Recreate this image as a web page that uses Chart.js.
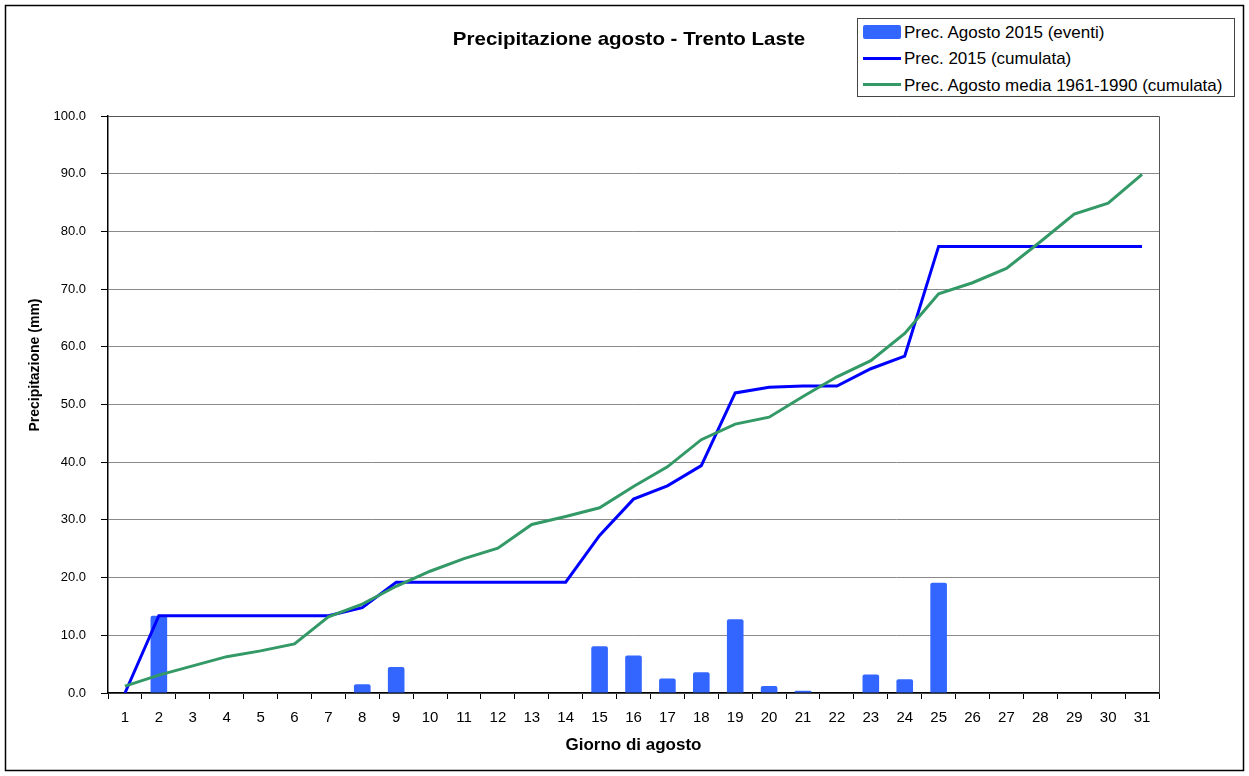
<!DOCTYPE html>
<html>
<head>
<meta charset="utf-8">
<script src="https://cdn.jsdelivr.net/npm/chart.js@4"></script>
<style>
  body { margin: 0; background: #fff; font-family: "Liberation Sans", Arial, sans-serif; }
  #wrap { position: relative; width: 1249px; height: 776px; }
  #title { position: absolute; left: 629px; top: 29px; line-height: 19px; white-space: nowrap; font-weight: bold; font-size: 19px; color: #000; transform: translateX(-50%) scaleX(1.08); }
  #legend { position: absolute; left: 857px; top: 18px; width: 376px; height: 77px; border: 1px solid #444; background: #fff; font-size: 17px; color: #000; }
  .row { position: absolute; left: 0; height: 20px; display: flex; align-items: center; white-space: nowrap; }
  .sw { width: 38px; margin-left: 5px; margin-right: 3px; position: relative; top: -1px; }
</style>
</head>
<body>
<div id="wrap">
  <canvas id="chart" width="1249" height="776"></canvas>
  <div id="title">Precipitazione agosto - Trento Laste</div>
  <div id="legend"></div>
</div>
<script>
const giorni = ['1','2','3','4','5','6','7','8','9','10','11','12','13','14','15','16','17','18','19','20','21','22','23','24','25','26','27','28','29','30','31'];
const eventi2015 = [0, 13.4, 0, 0, 0, 0, 0, 1.5, 4.5, 0, 0, 0, 0, 0, 8.1, 6.5, 2.5, 3.6, 12.8, 1.2, 0.4, 0, 3.2, 2.4, 19.1, 0, 0, 0, 0, 0, 0];
const cumulata2015 = [0, 13.4, 13.4, 13.4, 13.4, 13.4, 13.4, 14.8, 19.2, 19.2, 19.2, 19.2, 19.2, 19.2, 27.3, 33.6, 35.9, 39.4, 52.0, 53.0, 53.2, 53.2, 56.2, 58.4, 77.4, 77.4, 77.4, 77.4, 77.4, 77.4, 77.4];
const mediaCumulata = [1.2, 3.1, 4.7, 6.3, 7.3, 8.5, 13.2, 15.4, 18.5, 21.1, 23.3, 25.1, 29.2, 30.6, 32.1, 35.8, 39.2, 43.9, 46.6, 47.8, 51.4, 54.8, 57.6, 62.3, 69.2, 71.1, 73.6, 78.2, 83.0, 84.9, 89.9];
const yTicks = [0, 10, 20, 30, 40, 50, 60, 70, 80, 90, 100];

const FONT = '"Liberation Sans", Arial, sans-serif';
const Y_TITLE = 'Precipitazione (mm)';

// white background, outer frame, plot-area border and the y title (sits above centre like the original)
const framePlugin = {
    id: 'frame',
    beforeDraw(chart) {
        const c = chart.ctx;
        c.save();
        c.fillStyle = '#fff';
        c.fillRect(0, 0, chart.width, chart.height);
        c.strokeStyle = '#000';
        c.lineWidth = 1.5;
        c.strokeRect(5.5, 5.5, chart.width - 11, chart.height - 11);
        c.restore();
    },
    afterDatasetsDraw(chart) {
        const a = chart.chartArea, c = chart.ctx;
        c.save();
        c.strokeStyle = '#555';
        c.lineWidth = 1;
        c.beginPath();
        c.moveTo(a.left, a.top + 0.5);
        c.lineTo(a.right + 0.5, a.top + 0.5);
        c.lineTo(a.right + 0.5, a.bottom);
        c.stroke();
        c.restore();
    },
    afterDraw(chart) {
        const c = chart.ctx;
        c.save();
        c.translate(35, 365);
        c.rotate(-Math.PI / 2);
        c.font = 'bold 14px ' + FONT;
        c.fillStyle = '#000';
        c.textAlign = 'center';
        c.textBaseline = 'middle';
        c.fillText(Y_TITLE, 0, 0);
        c.restore();
    }
};

const chart = new Chart(document.getElementById('chart').getContext('2d'), {
    data: {
        labels: giorni,
        datasets: [
            { type: 'bar', label: 'Prec. Agosto 2015 (eventi)', data: eventi2015, backgroundColor: '#3366ff', borderRadius: 2, categoryPercentage: 1, barPercentage: 0.49, order: 2 },
            { type: 'line', label: 'Prec. 2015 (cumulata)', data: cumulata2015, borderColor: '#0000ff', borderWidth: 3, pointRadius: 0, tension: 0, order: 1 },
            { type: 'line', label: 'Prec. Agosto media 1961-1990 (cumulata)', data: mediaCumulata, borderColor: '#339966', borderWidth: 3, pointRadius: 0, tension: 0, order: 0 }
        ]
    },
    options: {
        responsive: false,
        animation: false,
        layout: { padding: { top: 116, right: 90, left: 0, bottom: 0 } },
        plugins: { legend: { display: false }, tooltip: { enabled: false }, title: { display: false } },
        scales: {
            x: {
                type: 'category',
                offset: true,
                afterFit(s) { s.height = 83; },
                grid: { display: true, drawOnChartArea: false, offset: true, tickLength: 6, tickColor: '#000' },
                border: { color: '#000', width: 1.5 },
                ticks: { color: '#000', padding: 10, maxRotation: 0, autoSkip: false, font: { family: FONT, size: 15 } },
                title: { display: true, text: 'Giorno di agosto', color: '#000', padding: { top: 0, bottom: 20 }, font: { family: FONT, size: 17, weight: 'bold' } }
            },
            y: {
                min: 0,
                max: 100,
                afterFit(s) { s.width = 108; },
                afterBuildTicks(s) { s.ticks = yTicks.map(v => ({ value: v })); },
                grid: { color: '#8a8a8a', lineWidth: 1, tickLength: 7, tickColor: '#000' },
                border: { color: '#000', width: 1.5 },
                ticks: { color: '#000', padding: 15, font: { family: FONT, size: 13 }, callback: v => Number(v).toFixed(1) }
            }
        }
    },
    plugins: [framePlugin]
});

// legend as html, taken from the datasets
const legend = document.getElementById('legend');
chart.data.datasets.forEach((ds, i) => {
    const row = document.createElement('div');
    row.className = 'row';
    row.style.top = (3.5 + i * 26.7) + 'px';
    const sw = document.createElement('span');
    sw.className = 'sw';
    if (ds.type === 'bar') {
        sw.style.height = '14px';
        sw.style.background = ds.backgroundColor;
        sw.style.borderRadius = '2px';
    } else {
        sw.style.height = '3px';
        sw.style.background = ds.borderColor;
    }
    row.appendChild(sw);
    row.appendChild(document.createTextNode(ds.label));
    legend.appendChild(row);
});
</script>
</body>
</html>
